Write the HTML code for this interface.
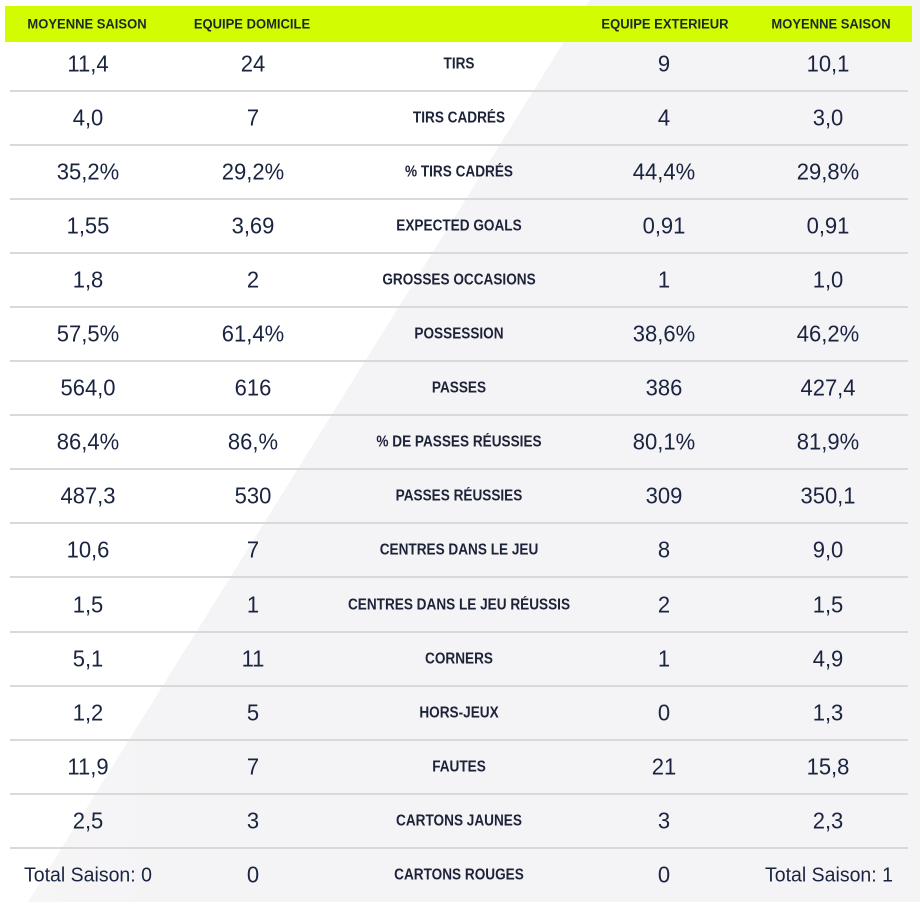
<!DOCTYPE html>
<html>
<head>
<meta charset="utf-8">
<style>
  html, body { margin: 0; padding: 0; }
  body { width: 920px; height: 902px; position: relative; overflow: hidden; background: #ffffff; font-family: "Liberation Sans", Arial, sans-serif; color: #1a2440; }
  svg.bg { position: absolute; left: 0; top: 0; }
  .hdr { position: absolute; left: 5px; top: 6px; width: 907px; height: 36px; background: #d2fc02; }
  .h { position: absolute; top: 6px; height: 36px; line-height: 35px; font-size: 13px; font-weight: bold; color: #1b2a26; text-align: center; width: 200px; margin-left: -100px; white-space: nowrap; transform: scaleY(1.08); }
  .line { position: absolute; left: 10px; width: 898px; height: 2px; background: #d9d9d9; }
  .c { position: absolute; height: 54px; line-height: 54px; text-align: center; width: 240px; margin-left: -120px; white-space: nowrap; }
  .v { font-size: 22px; transform: scaleY(1.05); }
  .t { font-size: 19.5px; transform: scaleY(1.05); }
  .l { font-size: 13.6px; font-weight: bold; color: #1c2238; transform: scaleY(1.12); }
</style>
</head>
<body>
<svg class="bg" width="920" height="902" viewBox="0 0 920 902">
  <defs>
    <linearGradient id="g" x1="0" y1="0" x2="1" y2="0">
      <stop offset="0" stop-color="#f7f6f7"/>
      <stop offset="0.15" stop-color="#f4f3f5"/>
      <stop offset="1" stop-color="#f4f3f5"/>
    </linearGradient>
  </defs>
  <polygon points="590,0 920,0 920,902 28,902" fill="url(#g)"/>
</svg>

<div class="hdr"></div>
<div class="h" style="left:87px;">MOYENNE SAISON</div>
<div class="h" style="left:252px;">EQUIPE DOMICILE</div>
<div class="h" style="left:665px;">EQUIPE EXTERIEUR</div>
<div class="h" style="left:831px;">MOYENNE SAISON</div>

<div class="line" style="top:89.5px"></div>
<div class="line" style="top:143.6px"></div>
<div class="line" style="top:197.7px"></div>
<div class="line" style="top:251.8px"></div>
<div class="line" style="top:305.9px"></div>
<div class="line" style="top:360px"></div>
<div class="line" style="top:414.1px"></div>
<div class="line" style="top:468.2px"></div>
<div class="line" style="top:522.3px"></div>
<div class="line" style="top:576.4px"></div>
<div class="line" style="top:630.5px"></div>
<div class="line" style="top:684.6px"></div>
<div class="line" style="top:738.7px"></div>
<div class="line" style="top:792.8px"></div>
<div class="line" style="top:846.9px"></div>

<!-- Row 1 -->
<div class="c v" style="top:36.5px;left:88px;">11,4</div>
<div class="c v" style="top:36.5px;left:253px;">24</div>
<div class="c l" style="top:36.5px;left:459px;">TIRS</div>
<div class="c v" style="top:36.5px;left:664px;">9</div>
<div class="c v" style="top:36.5px;left:828px;">10,1</div>
<!-- Row 2 -->
<div class="c v" style="top:90.6px;left:88px;">4,0</div>
<div class="c v" style="top:90.6px;left:253px;">7</div>
<div class="c l" style="top:90.6px;left:459px;">TIRS CADRÉS</div>
<div class="c v" style="top:90.6px;left:664px;">4</div>
<div class="c v" style="top:90.6px;left:828px;">3,0</div>
<!-- Row 3 -->
<div class="c v" style="top:144.7px;left:88px;">35,2%</div>
<div class="c v" style="top:144.7px;left:253px;">29,2%</div>
<div class="c l" style="top:144.7px;left:459px;">% TIRS CADRÉS</div>
<div class="c v" style="top:144.7px;left:664px;">44,4%</div>
<div class="c v" style="top:144.7px;left:828px;">29,8%</div>
<!-- Row 4 -->
<div class="c v" style="top:198.8px;left:88px;">1,55</div>
<div class="c v" style="top:198.8px;left:253px;">3,69</div>
<div class="c l" style="top:198.8px;left:459px;">EXPECTED GOALS</div>
<div class="c v" style="top:198.8px;left:664px;">0,91</div>
<div class="c v" style="top:198.8px;left:828px;">0,91</div>
<!-- Row 5 -->
<div class="c v" style="top:252.9px;left:88px;">1,8</div>
<div class="c v" style="top:252.9px;left:253px;">2</div>
<div class="c l" style="top:252.9px;left:459px;">GROSSES OCCASIONS</div>
<div class="c v" style="top:252.9px;left:664px;">1</div>
<div class="c v" style="top:252.9px;left:828px;">1,0</div>
<!-- Row 6 -->
<div class="c v" style="top:307px;left:88px;">57,5%</div>
<div class="c v" style="top:307px;left:253px;">61,4%</div>
<div class="c l" style="top:307px;left:459px;">POSSESSION</div>
<div class="c v" style="top:307px;left:664px;">38,6%</div>
<div class="c v" style="top:307px;left:828px;">46,2%</div>
<!-- Row 7 -->
<div class="c v" style="top:361.1px;left:88px;">564,0</div>
<div class="c v" style="top:361.1px;left:253px;">616</div>
<div class="c l" style="top:361.1px;left:459px;">PASSES</div>
<div class="c v" style="top:361.1px;left:664px;">386</div>
<div class="c v" style="top:361.1px;left:828px;">427,4</div>
<!-- Row 8 -->
<div class="c v" style="top:415.2px;left:88px;">86,4%</div>
<div class="c v" style="top:415.2px;left:253px;">86,%</div>
<div class="c l" style="top:415.2px;left:459px;">% DE PASSES RÉUSSIES</div>
<div class="c v" style="top:415.2px;left:664px;">80,1%</div>
<div class="c v" style="top:415.2px;left:828px;">81,9%</div>
<!-- Row 9 -->
<div class="c v" style="top:469.3px;left:88px;">487,3</div>
<div class="c v" style="top:469.3px;left:253px;">530</div>
<div class="c l" style="top:469.3px;left:459px;">PASSES RÉUSSIES</div>
<div class="c v" style="top:469.3px;left:664px;">309</div>
<div class="c v" style="top:469.3px;left:828px;">350,1</div>
<!-- Row 10 -->
<div class="c v" style="top:523.4px;left:88px;">10,6</div>
<div class="c v" style="top:523.4px;left:253px;">7</div>
<div class="c l" style="top:523.4px;left:459px;">CENTRES DANS LE JEU</div>
<div class="c v" style="top:523.4px;left:664px;">8</div>
<div class="c v" style="top:523.4px;left:828px;">9,0</div>
<!-- Row 11 -->
<div class="c v" style="top:577.5px;left:88px;">1,5</div>
<div class="c v" style="top:577.5px;left:253px;">1</div>
<div class="c l" style="top:577.5px;left:459px;">CENTRES DANS LE JEU RÉUSSIS</div>
<div class="c v" style="top:577.5px;left:664px;">2</div>
<div class="c v" style="top:577.5px;left:828px;">1,5</div>
<!-- Row 12 -->
<div class="c v" style="top:631.6px;left:88px;">5,1</div>
<div class="c v" style="top:631.6px;left:253px;">11</div>
<div class="c l" style="top:631.6px;left:459px;">CORNERS</div>
<div class="c v" style="top:631.6px;left:664px;">1</div>
<div class="c v" style="top:631.6px;left:828px;">4,9</div>
<!-- Row 13 -->
<div class="c v" style="top:685.7px;left:88px;">1,2</div>
<div class="c v" style="top:685.7px;left:253px;">5</div>
<div class="c l" style="top:685.7px;left:459px;">HORS-JEUX</div>
<div class="c v" style="top:685.7px;left:664px;">0</div>
<div class="c v" style="top:685.7px;left:828px;">1,3</div>
<!-- Row 14 -->
<div class="c v" style="top:739.8px;left:88px;">11,9</div>
<div class="c v" style="top:739.8px;left:253px;">7</div>
<div class="c l" style="top:739.8px;left:459px;">FAUTES</div>
<div class="c v" style="top:739.8px;left:664px;">21</div>
<div class="c v" style="top:739.8px;left:828px;">15,8</div>
<!-- Row 15 -->
<div class="c v" style="top:793.9px;left:88px;">2,5</div>
<div class="c v" style="top:793.9px;left:253px;">3</div>
<div class="c l" style="top:793.9px;left:459px;">CARTONS JAUNES</div>
<div class="c v" style="top:793.9px;left:664px;">3</div>
<div class="c v" style="top:793.9px;left:828px;">2,3</div>
<!-- Row 16 -->
<div class="c t" style="top:848px;left:88px;">Total Saison: 0</div>
<div class="c v" style="top:848px;left:253px;">0</div>
<div class="c l" style="top:848px;left:459px;">CARTONS ROUGES</div>
<div class="c v" style="top:848px;left:664px;">0</div>
<div class="c t" style="top:848px;left:829px;">Total Saison: 1</div>
</body>
</html>
